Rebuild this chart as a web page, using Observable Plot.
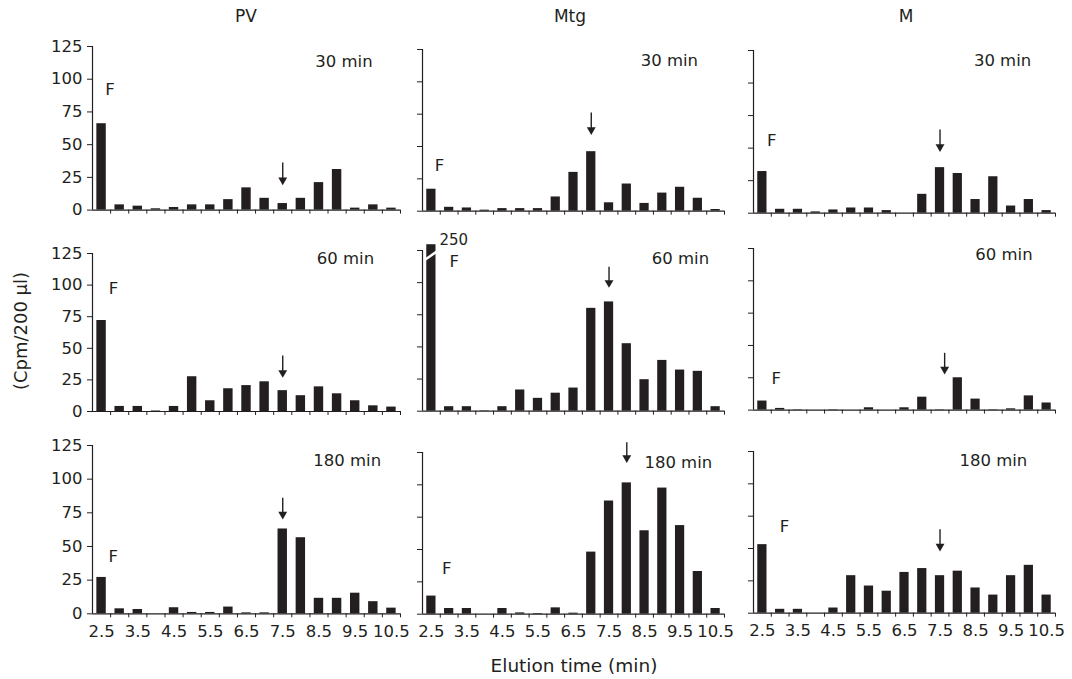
<!DOCTYPE html>
<html>
<head>
<meta charset="utf-8">
<script src="https://cdn.jsdelivr.net/npm/d3@7"></script>
<script src="https://cdn.jsdelivr.net/npm/@observablehq/plot@0.6"></script>
<style>
  html, body { margin: 0; padding: 0; background: #fff; }
  #root { position: relative; width: 1072px; height: 679px; overflow: hidden; font-family: "DejaVu Sans", sans-serif; color: #231f20; }
  #root svg { position: absolute; overflow: visible; }
  .lbl { position: absolute; font-size: 17px; white-space: nowrap; transform: translate(-50%, -50%); }
</style>
</head>
<body>
<div id="root"></div>
<script>
// ---- data ----
const times = [2.5, 3, 3.5, 4, 4.5, 5, 5.5, 6, 6.5, 7, 7.5, 8, 8.5, 9, 9.5, 10, 10.5];
const xTickLabels = [2.5, 3.5, 4.5, 5.5, 6.5, 7.5, 8.5, 9.5, 10.5];
const yTicks = [0, 25, 50, 75, 100, 125];
const columns = ["PV", "Mtg", "M"];
const rowsLabels = ["30 min", "60 min", "180 min"];

const pv30  = [66, 4, 3, 1, 2, 4, 4, 8, 17, 9, 5, 9, 21, 31, 1.5, 4, 1.5];
const mtg30 = [17, 3, 2.5, 0.8, 2, 2, 2, 11, 30, 46, 6.5, 21, 6, 14, 18.5, 10, 1.3];
const m30   = [32, 3, 3, 1, 2.5, 4, 4, 2, 0, 14.5, 35, 30.5, 10.5, 28, 5.5, 10.5, 2];

const pv60  = [72, 4, 4, 0.4, 4, 27.5, 8.5, 18, 20.5, 23.5, 16.5, 12.5, 19.5, 14, 8.5, 4.5, 3.5];
const mtg60 = [250, 3.5, 3.5, 0.3, 3.5, 16.5, 10, 14, 18, 80, 85, 52.5, 24.5, 39.5, 32, 31, 3.5];
const m60   = [7, 1.3, 0.3, 0, 0.3, 0, 1.8, 0, 1.8, 10, 0.3, 25, 8.5, 0.3, 1, 11, 5.5];

const pv180  = [27, 3.7, 3.2, 0, 4.5, 1, 1, 5, 0.7, 0.7, 63, 56.5, 11.5, 11.5, 15.3, 9, 4.2];
const mtg180 = [14, 4.4, 4.4, 0, 4.4, 1, 0.5, 4.9, 0.8, 48, 87.5, 101.5, 64.5, 97.5, 68.5, 33, 4.4];
const m180   = [53, 3, 3, 0, 4, 29, 21, 17, 31.5, 34.5, 29, 32.5, 19.5, 14, 29, 37, 14];

// annotations in data units: F label, time label, arrow (x, from y1 to y2)
const fLabels    = [[[2.73, 92], [2.73, 35], [2.76, 56]],
                    [[2.83, 97], [3.14, 116], [2.89, 24]],
                    [[2.82, 42.6], [2.93, 35], [3.12, 67]]];
const timeLabels = [[[9.19, 113.5], [9.2, 116.7], [9.26, 116.8]],
                    [[9.23, 120.5], [9.51, 118.5], [9.3, 120]],
                    [[9.28, 113.4], [9.45, 117], [9.0, 117.5]]];
const arrows     = [[[7.5, 34, 21], [7.0, 74, 61], [7.5, 62, 49]],
                    [[7.5, 42, 28.7], [7.5, 110, 98], [7.63, 42, 29.6]],
                    [[7.5, 84, 72], [8.0, 130.6, 119], [7.5, 62.6, 49.7]]];
const brokenValueCap = 129.5;

const series = [[pv30, mtg30, m30], [pv60, mtg60, m60], [pv180, mtg180, m180]];

// ---- layout ----
const ink = "#231f20";
const font = "DejaVu Sans, sans-serif";
const fs = 16.5;
const axisLeft = [91.7, 422, 753.3];
const widths = [308, 302, 302];
const tops  = [[45.7, 49.3, 50], [252.7, 250, 247.7], [445, 452.3, 451]];
const zeros = [[209.3, 211, 212.7], [410.7, 410.7, 409.3], [613.3, 614, 612.7]];
const mL = 50, mR = 20, mT = 30, mB = 32;

const boundaries = times.map(t => t + 0.25);
const root = document.getElementById("root");

for (let r = 0; r < 3; r++) {
  for (let c = 0; c < 3; c++) {
    const vals = series[r][c];
    const data = times.map((t, i) => ({t, v: vals[i]}));
    const h = zeros[r][c] - tops[r][c];
    const w = widths[c];
    const [fx, fy] = fLabels[r][c];
    const [tx, ty] = timeLabels[r][c];
    const [ax, ay1, ay2] = arrows[r][c];
    const broken = data.filter(d => d.v > brokenValueCap);
    const marks = [
      Plot.rectY(data, {x1: d => d.t - 0.13, x2: d => d.t + 0.13, y: d => Math.min(d.v, brokenValueCap), fill: ink}),
      Plot.ruleY([0], {stroke: ink, strokeWidth: 1.2}),
      Plot.ruleX([2.25], {y1: 0, y2: 125, stroke: ink, strokeWidth: 1.2}),
      Plot.axisY({ticks: yTicks, tickSize: 5, tickPadding: 5, anchor: "left",
                  tickFormat: c === 0 ? (d => String(d)) : (() => ""), fontSize: fs, fill: ink, stroke: ink}),
      Plot.axisX({ticks: boundaries, tickSize: 4, anchor: "bottom", tickFormat: () => "", stroke: ink}),
      Plot.text([0], {x: fx, y: fy, text: () => "F", fontSize: fs, fill: ink}),
      Plot.text([0], {x: tx, y: ty, text: () => rowsLabels[r], fontSize: fs, fill: ink}),
      Plot.link([0], {x1: ax, x2: ax, y1: ay1, y2: ay2, stroke: ink, strokeWidth: 1.4, dy: -3}),
      Plot.dot([0], {x: ax, y: ay2, symbol: "triangle", rotate: 180, r: 3.3, fill: ink, stroke: "none", dy: -2.5})
    ];
    if (r === 2) {
      marks.push(Plot.axisX({ticks: xTickLabels, tickSize: 0, tickPadding: 11, anchor: "bottom",
                             tickFormat: d => d.toFixed(1), fontSize: fs, fill: ink}));
    }
    if (broken.length) {
      marks.push(Plot.link(broken, {x1: d => d.t - 0.17, x2: d => d.t + 0.17, y1: 118, y2: 124.5, stroke: "white", strokeWidth: 2.5}));
      marks.push(Plot.text(broken, {x: d => d.t + 0.63, y: 133, text: d => String(d.v), fontSize: 15, fill: ink}));
    }
    const svg = Plot.plot({
      width: w + mL + mR,
      height: h + mT + mB,
      marginLeft: mL, marginRight: mR, marginTop: mT, marginBottom: mB,
      x: {domain: [2.25, 10.75], axis: null},
      y: {domain: [0, 125], axis: null},
      style: {background: "transparent", overflow: "visible", fontFamily: font, fontSize: fs + "px", color: ink},
      marks
    });
    svg.style.left = (axisLeft[c] - mL) + "px";
    svg.style.top = (tops[r][c] - mT) + "px";
    root.appendChild(svg);
  }
}

// column titles
const colCenters = [246, 570, 906];
columns.forEach((name, i) => {
  const d = document.createElement("div");
  d.className = "lbl";
  d.textContent = name;
  d.style.left = colCenters[i] + "px";
  d.style.top = "16px";
  root.appendChild(d);
});
// axis titles
const yl = document.createElement("div");
yl.className = "lbl";
yl.textContent = "(Cpm/200 µl)";
yl.style.fontSize = "18px";
yl.style.left = "20px";
yl.style.top = "331px";
yl.style.transform = "translate(-50%, -50%) rotate(-90deg)";
root.appendChild(yl);
const xl = document.createElement("div");
xl.className = "lbl";
xl.textContent = "Elution time (min)";
xl.style.fontSize = "18.5px";
xl.style.left = "574px";
xl.style.top = "665px";
root.appendChild(xl);
</script>
</body>
</html>
